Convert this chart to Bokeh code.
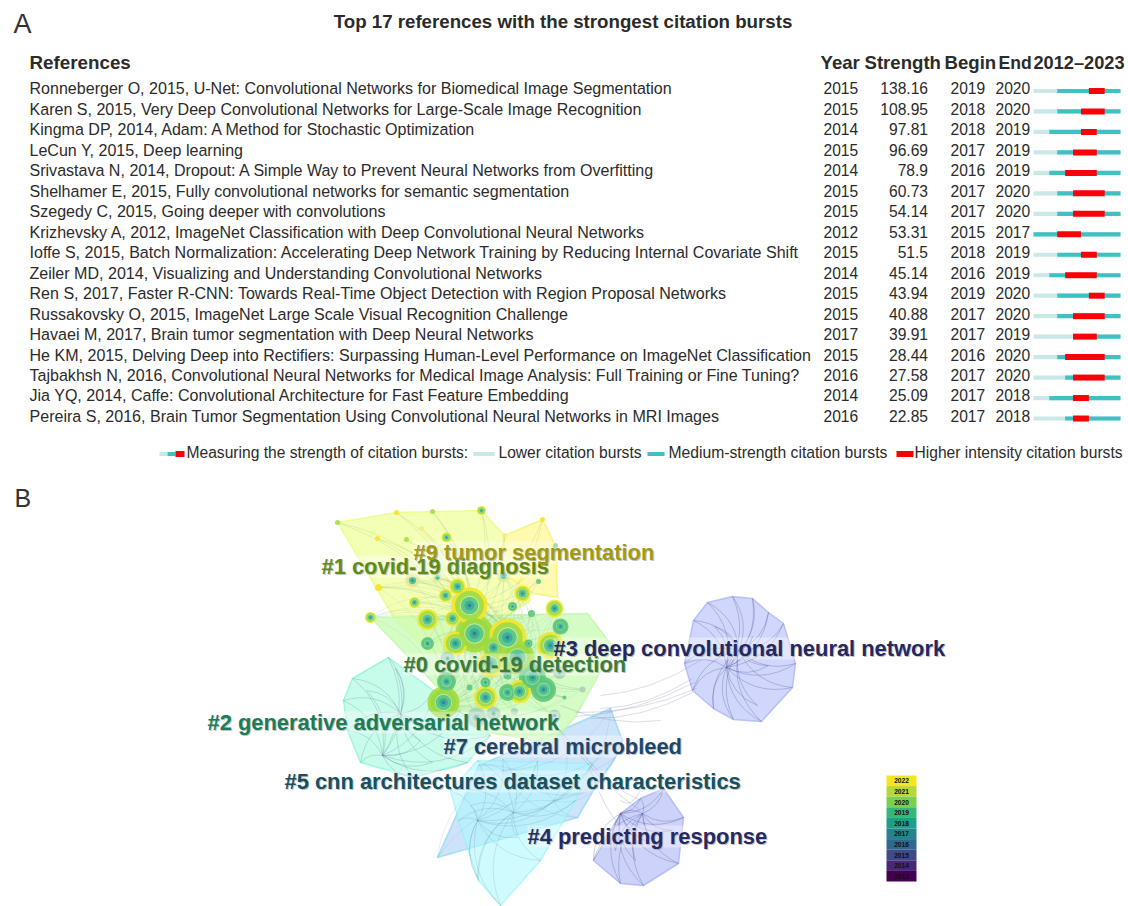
from bokeh.plotting import figure
from bokeh.models import Range1d
from bokeh.embed import file_html
from bokeh.resources import INLINE
from bokeh.core.properties import value
import math

# ---------- table data ----------
refs = [
 "Ronneberger O, 2015, U-Net: Convolutional Networks for Biomedical Image Segmentation",
 "Karen S, 2015, Very Deep Convolutional Networks for Large-Scale Image Recognition",
 "Kingma DP, 2014, Adam: A Method for Stochastic Optimization",
 "LeCun Y, 2015, Deep learning",
 "Srivastava N, 2014, Dropout: A Simple Way to Prevent Neural Networks from Overfitting",
 "Shelhamer E, 2015, Fully convolutional networks for semantic segmentation",
 "Szegedy C, 2015, Going deeper with convolutions",
 "Krizhevsky A, 2012, ImageNet Classification with Deep Convolutional Neural Networks",
 "Ioffe S, 2015, Batch Normalization: Accelerating Deep Network Training by Reducing Internal Covariate Shift",
 "Zeiler MD, 2014, Visualizing and Understanding Convolutional Networks",
 "Ren S, 2017, Faster R-CNN: Towards Real-Time Object Detection with Region Proposal Networks",
 "Russakovsky O, 2015, ImageNet Large Scale Visual Recognition Challenge",
 "Havaei M, 2017, Brain tumor segmentation with Deep Neural Networks",
 "He KM, 2015, Delving Deep into Rectifiers: Surpassing Human-Level Performance on ImageNet Classification",
 "Tajbakhsh N, 2016, Convolutional Neural Networks for Medical Image Analysis: Full Training or Fine Tuning?",
 "Jia YQ, 2014, Caffe: Convolutional Architecture for Fast Feature Embedding",
 "Pereira S, 2016, Brain Tumor Segmentation Using Convolutional Neural Networks in MRI Images",
]
years = [2015,2015,2014,2015,2014,2015,2015,2012,2015,2014,2015,2015,2017,2015,2016,2014,2016]
strengths = ["138.16","108.95","97.81","96.69","78.9","60.73","54.14","53.31","51.5","45.14","43.94","40.88","39.91","28.44","27.58","25.09","22.85"]
begins = [2019,2018,2018,2017,2016,2017,2017,2015,2018,2016,2019,2017,2017,2016,2017,2017,2017]
ends = [2020,2020,2019,2019,2019,2020,2020,2017,2019,2019,2020,2020,2019,2020,2020,2018,2018]
teal_from = [2015,2015,2014,2015,2014,2015,2015,2012,2015,2014,2015,2015,2017,2015,2016,2014,2016]

# ---------- network data (reference page coordinates) ----------
hull_1 = [(337,522),(396,512),(481,510),(504,535),(530,600),(470,640),(432,655),(395,620)]
hull_9 = [(504,535),(542,519),(555,545),(557,597),(533,593),(505,575),(500,560)]
hull_0 = [(370,617),(587,613),(613,647),(577,713),(553,743),(477,730),(440,690)]
hull_2 = [(388,657),(352,678),(343,700),(347,730),(360,762),(413,777),(467,762),(490,735),(460,710),(433,690)]
hull_7 = [(610,708),(622,740),(615,757),(593,790),(577,817),(437,857),(478,765),(560,730)]
hull_5 = [(477,760),(592,763),(575,800),(540,860),(500,905),(478,880),(458,820),(450,790)]
hull_3 = [(732,596),(707,602),(693,620),(684,663),(692,690),(713,708),(733,719),(761,721),(792,687),(795,663),(783,623),(768,612),(752,598)]
hull_4 = [(663,788),(683,817),(678,863),(643,885),(620,883),(593,860),(620,813),(640,798)]

node_x = [469,474,507,455,427,452,370,414,378,412,437,445,457,503,522,512,554,560,531,550,427,493,517,528,447,490,446,443,485,507,519,532,543,559,485,507,469,582,476,493,514,554,564,481,337,396,432,377,406,421,446,542,504,555,538]
node_y = [605,633,637,643,619,618,617,602,587,580,577,595,586,575,593,606,608,626,613,645,643,647,657,643,658,663,681,702,697,692,691,677,689,672,682,675,687,689,717,713,711,715,697,510,522,512,511,538,539,528,537,519,535,545,581]
node_r = [18,19,19,12,10.5,7.5,5.5,5.5,3.5,7.5,5,6.5,8,7,8,4.5,9,8,3.5,13.5,6.5,10.5,17,4,7,13.5,9.5,16,11.5,8.5,11.5,13.5,12.5,6.5,5,4,3,3,10,7,3.5,6,2,4.5,2.5,2.5,2.5,2.5,2.5,2.5,5,2.5,2.5,2.5,2.5]
node_kind = list("yLyyyyyyyPPyyPygyggygLLgFygLygyggFgggFFFFF") + list("gylylylPyyPg") + ["g"]
node_kind = node_kind[:55]
hubs_main = [(469,605),(474,633),(507,637),(517,657),(532,677),(443,702)]
hub_3 = [(726,667),(738,650)]
rim_3 = hull_3 + [(752,636),(768,665),(757,705),(714,626)]
hub_2 = [(400,713),(382,755)]
rim_2 = hull_2 + [(366,690),(420,740),(432,762),(395,668)]
hub_5 = [(513,812),(477,820)]
rim_5 = hull_5 + [(470,805),(517,837),(553,800),(477,877),(502,758),(537,760)]
hub_7 = [(553,800),(502,770)]
rim_7 = hull_7
hub_4 = [(642,813),(620,813)]
rim_4 = hull_4 + [(660,845),(635,860),(615,850),(672,830)]
links_x0 = [575,575,590,600,560,575,590,620,560,600]
links_y0 = [712,716,718,708,730,745,770,800,705,695]
links_x1 = [696,694,692,692,640,640,620,640,660,700]
links_y1 = [688,682,692,678,810,800,825,790,720,660]

legend_years = ["2022","2021","2020","2019","2018","2017","2016","2015","2014","2013"]
legend_cols = ["#f4e51e","#b5d93a","#7bd04f","#35b779","#1f9e89","#26828e","#31688e","#3e4a89","#482878","#440154"]

cluster_labels = ["#1 covid-19 diagnosis","#9 tumor segmentation","#0 covid-19 detection","#2 generative adversarial network",
                  "#3 deep convolutional neural network","#7 cerebral microbleed","#5 cnn architectures dataset characteristics","#4 predicting response"]
label_x = [321,413,403,207,553,443,284,527]
label_y = [566,552,664,722,648,746,781,836]
label_w = [227,240,222,352,392,239,456,240]
label_col = ["#5f8a1c","#a19a12","#3b7d38","#1c7c58","#25285f","#1f4568","#17505f","#272a62"]

# ---------- figure ----------
W, H = 1128, 906
p = figure(width=W, height=H, x_range=Range1d(0, W), y_range=Range1d(H, 0),
           toolbar_location=None, output_backend="svg", min_border=0)
p.axis.visible = False
p.grid.visible = False
p.outline_line_color = None

px_year = (1120-1033)/11
p.extra_x_ranges["yr"] = Range1d(2012-1033/px_year, 2012+(W-1033)/px_year)
row_h = 20.47
p.extra_y_ranges["row"] = Range1d((H-90.5)/row_h, -90.5/row_h)

FONT = value("Liberation Sans")
DARK = "#2b2b2b"
TS = "16.06px"
NS = "15.6px"

def T(x, y, s, size=TS, bold=False, align="left", col=DARK, **kw):
    p.text([x],[y],text=[s],text_font=FONT,text_font_size=size,text_color=col,
           text_font_style="bold" if bold else "normal",text_align=align,text_baseline="middle",**kw)

T(13,23,"A",size="27px",col="#333333")
T(14,497,"B",size="25px",col="#333333")
T(562.5,21,"Top 17 references with the strongest citation bursts",size="18.7px",bold=True,align="center")
T(29,62,"References",size="18.8px",bold=True)
for x,s,sz in [(820,"Year","18.6px"),(864,"Strength","18.6px"),(944,"Begin","18.6px"),(998,"End","17.6px"),(1033,"2012–2023","18.2px")]:
    T(x,62,s,size=sz,bold=True)

rows = list(range(len(refs)))
common = dict(text_font=FONT,text_color=DARK,text_baseline="middle",y_offset=-2.6,y_range_name="row")
p.text([29]*17,rows,text=refs,text_align="left",text_font_size=TS,**common)
p.text([823]*17,rows,text=[str(v) for v in years],text_align="left",text_font_size=NS,**common)
p.text([927.5]*17,rows,text=strengths,text_align="right",text_font_size=NS,**common)
p.text([950]*17,rows,text=[str(v) for v in begins],text_align="left",text_font_size=NS,**common)
p.text([995]*17,rows,text=[str(v) for v in ends],text_align="left",text_font_size=NS,**common)

bar = dict(x_range_name="yr",y_range_name="row",line_color=None)
p.hbar(y=rows,left=[2012]*17,right=[2023]*17,height=4.2/row_h,fill_color="#c9e9e9",**bar)
p.hbar(y=rows,left=teal_from,right=[2023]*17,height=4.2/row_h,fill_color="#3fc1c3",**bar)
p.hbar(y=rows,left=begins,right=[e+1 for e in ends],height=6/row_h,fill_color="#fb0006",**bar)

LY = 453.5
p.quad(left=[159],right=[167],top=[LY+2],bottom=[LY-2],fill_color="#c9e9e9",line_color=None)
p.quad(left=[167],right=[175],top=[LY+2],bottom=[LY-2],fill_color="#3fc1c3",line_color=None)
p.quad(left=[175],right=[184],top=[LY+3],bottom=[LY-3],fill_color="#fb0006",line_color=None)
T(186,452,"Measuring the strength of citation bursts:",size=NS)
p.quad(left=[473],right=[494],top=[LY+2],bottom=[LY-2],fill_color="#c9e9e9",line_color=None)
T(498,452,"Lower citation bursts",size=NS)
p.quad(left=[647],right=[664],top=[LY+2],bottom=[LY-2],fill_color="#3fc1c3",line_color=None)
T(668,452,"Medium-strength citation bursts",size="15.7px")
p.quad(left=[896],right=[913],top=[LY+3],bottom=[LY-3],fill_color="#fb0006",line_color=None)
T(914,452,"Higher intensity citation bursts",size=NS)

def hull(pts, fill, line, a=0.55, la=0.75):
    p.patch([q[0] for q in pts],[q[1] for q in pts],fill_color=fill,fill_alpha=a,line_color=line,line_width=1.5,line_alpha=la)
hull(hull_3,"#c8cffc","#a8b3f8",0.85)
hull(hull_4,"#c4caf9","#a8b0f5",0.85)
hull(hull_2,"#b4fbe3","#86f5da",0.75)
hull(hull_7,"#c0dcf9","#8fd8f6",0.8)
hull(hull_5,"#aef8fd","#8ff2f8",0.58,0.6)
hull(hull_1,"#f0ff9e","#ecfb78",0.75)
hull(hull_9,"#fff99c","#f8f264",0.8)
hull(hull_0,"#ccfbb6","#bff5aa",0.8)

def edges(hubs, rim, col, alpha, bend=0.28, lw=0.8):
    x0,y0,x1,y1,cx,cy=[],[],[],[],[],[]
    for h in hubs:
        for r in rim:
            d=math.hypot(r[0]-h[0],r[1]-h[1])
            if d<3: continue
            x0.append(h[0]);y0.append(h[1]);x1.append(r[0]);y1.append(r[1])
            cx.append((h[0]+r[0])/2-(r[1]-h[1])*bend);cy.append((h[1]+r[1])/2+(r[0]-h[0])*bend)
    p.quadratic(x0,y0,x1,y1,cx,cy,line_color=col,line_alpha=alpha,line_width=lw)
edges(hub_3,rim_3,"#4a5090",0.36)
edges(hub_4,rim_4,"#4a5090",0.36)
edges(hub_2,rim_2,"#4a5a88",0.26)
edges(hub_7,rim_7,"#4a6a90",0.14)
edges(hub_5,rim_5,"#3d6a80",0.2)
nodes = list(zip(node_x,node_y))
edges(hubs_main,nodes[:43],"#5f9a70",0.14)
edges(hubs_main[:2],nodes[43:],"#8fa860",0.24,bend=0.18)
lcx=[(a+b)/2 for a,b in zip(links_x0,links_x1)]
lcy=[(a+b)/2+14 for a,b in zip(links_y0,links_y1)]
p.quadratic(links_x0,links_y0,links_x1,links_y1,lcx,lcy,line_color="#6a6f9a",line_alpha=0.3,line_width=0.8)

OUTER = {"y":"#f2e52a","L":"#a5dc3c","g":"#63c878","P":"#f2ec92","F":"#a8d4b6","l":"#a6e04a"}
INNER = {"y":"#a0dc48","L":"#9ad846","g":"#5cc57e","P":"#d8e8a0","F":"#a8d4b6","l":"#a6e04a"}
order = sorted(range(len(node_x)),key=lambda i:-node_r[i])
nx=[node_x[i] for i in order]; ny=[node_y[i] for i in order]; nr=[node_r[i] for i in order]; nk=[node_kind[i] for i in order]
p.circle(nx,ny,radius=nr,fill_color=[OUTER[k] for k in nk],fill_alpha=0.92,line_color=None)
big=[j for j in range(len(nx)) if nr[j]>=4]
bx=[nx[j] for j in big]; by=[ny[j] for j in big]; br=[nr[j] for j in big]; bk=[nk[j] for j in big]
p.circle(bx,by,radius=[r*0.8 for r in br],fill_color=[INNER[k] for k in bk],fill_alpha=0.95,line_color=None)
p.circle(bx,by,radius=[r*0.54 for r in br],fill_color="#ffffff",fill_alpha=0.45,line_color=None)
p.circle(bx,by,radius=[r*0.49 for r in br],fill_color=["#5cc98a" if k!="F" else "#a2d2b4" for k in bk],line_color=None)
p.circle(bx,by,radius=[r*0.27 for r in br],fill_color="#2a9e9e",fill_alpha=0.6,line_color=None)
p.circle(bx,by,radius=[r*0.1 for r in br],fill_color="#2f6da5",fill_alpha=0.75,line_color=None)

p.quad(left=label_x,right=[a+b for a,b in zip(label_x,label_w)],
       top=[y-11 for y in label_y],bottom=[y+11 for y in label_y],fill_color="#ffffff",fill_alpha=0.36,line_color=None)
lab=dict(text_font=FONT,text_font_size="21.9px",text_font_style="bold",text_align="left",text_baseline="middle")
p.text([a+1 for a in label_x],[b+1 for b in label_y],text=cluster_labels,text_color="#888888",text_alpha=0.5,**lab)
p.text(label_x,label_y,text=cluster_labels,text_color=label_col,**lab)

cell=(881-775)/10
p.quad(left=[886]*10,right=[916]*10,top=[775+i*cell for i in range(10)],bottom=[775+(i+1)*cell for i in range(10)],
       fill_color=legend_cols,line_color=None)
p.text([901]*10,[775+(i+.5)*cell for i in range(10)],text=legend_years,text_font=FONT,text_font_size="6.6px",
       text_font_style="bold",text_align="center",text_baseline="middle",text_color="#101010")

open("out.html","w").write(file_html(p,INLINE))
